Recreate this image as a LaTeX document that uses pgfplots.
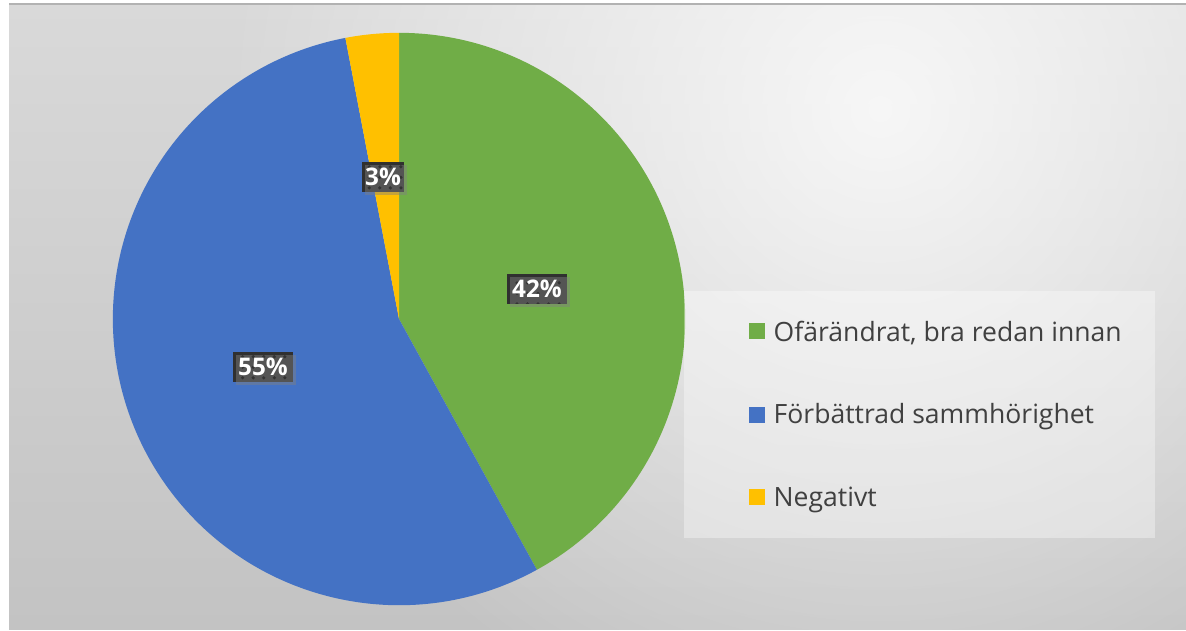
\documentclass[border=0pt]{standalone}
\usepackage{pgfplots}
\pgfplotsset{compat=1.18}
\usepackage{pgfplotstable}
\usepackage{fontspec}
\setmainfont{Open Sans}
\usetikzlibrary{shadows,patterns,fadings}

\definecolor{cgreen}{HTML}{70AD47}
\definecolor{cblue}{HTML}{4472C4}
\definecolor{cyellow}{HTML}{FFC000}
\definecolor{ctext}{HTML}{404040}
\definecolor{bgtop}{HTML}{D9D9D9}
\definecolor{bgbot}{HTML}{C3C3C3}
\definecolor{lblbox}{HTML}{303030}
\tikzfading[name=spot, inner color=transparent!0, outer color=transparent!100]

\pgfplotstableread{
slice value
green 42
blue 55
yellow 3
}\piedata
\pgfplotstablegetelem{0}{value}\of\piedata \edef\vA{\pgfplotsretval}
\pgfplotstablegetelem{1}{value}\of\piedata \edef\vB{\pgfplotsretval}
\pgfplotstablegetelem{2}{value}\of\piedata \edef\vC{\pgfplotsretval}
\pgfmathsetmacro{\aS}{90}
\pgfmathsetmacro{\aA}{\aS-3.6*\vA}
\pgfmathsetmacro{\aB}{\aA-3.6*\vB}
\pgfmathsetmacro{\aC}{\aB-3.6*\vC}

\tikzset{lbl/.style={preaction={fill=lblbox}, pattern=dots, pattern color=black!80,
  text=white, font=\fontsize{6.9pt}{8pt}\selectfont\bfseries, inner sep=0pt,
  minimum height=0.29cm, drop shadow={opacity=0.45, shadow xshift=0.03cm, shadow yshift=-0.03cm}}}

\begin{document}
\begin{tikzpicture}
\begin{axis}[
  x=0.01cm, y=0.01cm,
  xmin=0, xmax=1186, ymin=0, ymax=631,
  y dir=reverse,
  hide axis, clip=false,
  anchor=origin, at={(0,0)},
]
\coordinate (BL) at (axis cs:0,631);
\coordinate (TR) at (axis cs:1186,0);
% page background
\fill[white] (axis cs:0,0) rectangle (axis cs:1186,631);
% chart background
\shade[top color=bgtop, bottom color=bgbot] (axis cs:9,4) rectangle (axis cs:1186,629);
\begin{scope}
\clip (axis cs:9,4) rectangle (axis cs:1186,629);
\fill[white, fill opacity=0.8, path fading=spot] (axis cs:880,110) circle [radius=6.6cm];
\end{scope}
\draw[black!30, line width=0.02cm] (axis cs:9,4.5) -- (axis cs:1186,4.5);
% pie slices
\fill[cgreen] (axis cs:399,319) -- ++(\aS:2.86cm) arc[start angle=\aS, end angle=\aA, radius=2.86cm] -- cycle;
\fill[cblue] (axis cs:399,319) -- ++(\aA:2.86cm) arc[start angle=\aA, end angle=\aB, radius=2.86cm] -- cycle;
\fill[cyellow] (axis cs:399,319) -- ++(\aB:2.86cm) arc[start angle=\aB, end angle=\aC, radius=2.86cm] -- cycle;
% data labels
\node[lbl, minimum width=0.59cm] at (axis cs:537,289) {42\%};
\node[lbl, minimum width=0.59cm] at (axis cs:263,367) {55\%};
\node[lbl, minimum width=0.42cm] at (axis cs:383,177) {3\%};
% legend
\fill[white, opacity=0.35] (axis cs:684,291) rectangle (axis cs:1155,538);
\fill[cgreen] (axis cs:749,323) rectangle (axis cs:765,339);
\fill[cblue] (axis cs:749,407) rectangle (axis cs:765,423);
\fill[cyellow] (axis cs:749,489) rectangle (axis cs:765,505);
\node[anchor=base west, inner sep=0pt, text=ctext, font=\fontsize{7.55pt}{8pt}\selectfont] at (axis cs:773,341) {Ofärändrat, bra redan innan};
\node[anchor=base west, inner sep=0pt, text=ctext, font=\fontsize{7.55pt}{8pt}\selectfont] at (axis cs:773,423) {Förbättrad sammhörighet};
\node[anchor=base west, inner sep=0pt, text=ctext, font=\fontsize{7.55pt}{8pt}\selectfont] at (axis cs:773,506) {Negativt};
\end{axis}
\pgfresetboundingbox
\path[use as bounding box] (BL) rectangle (TR);
\end{tikzpicture}
\end{document}
